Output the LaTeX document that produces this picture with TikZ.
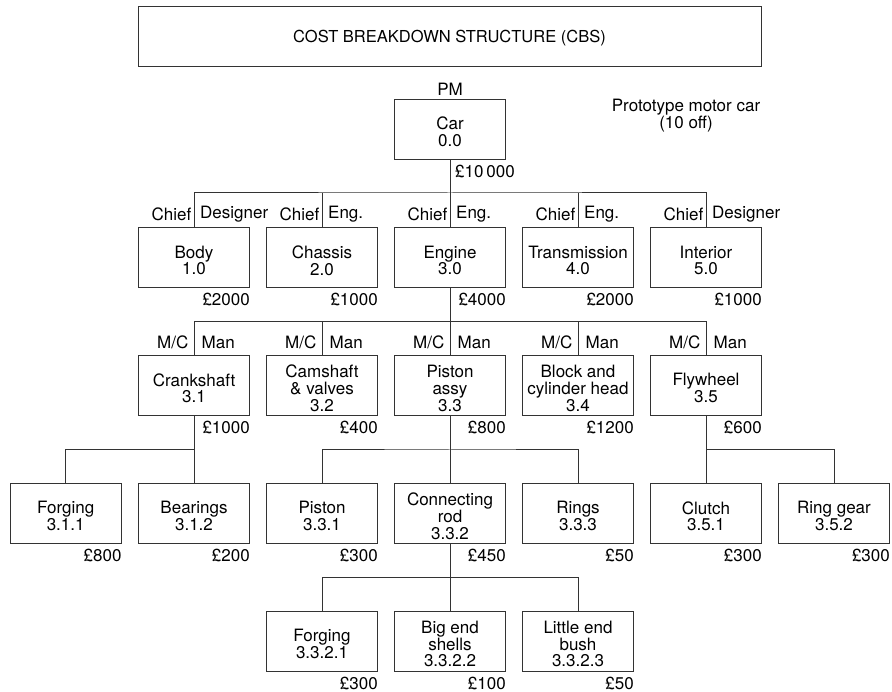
\documentclass[tikz,border=0pt]{standalone}
\usepackage{fontspec}
\setmainfont{TeX Gyre Heros}
\usetikzlibrary{calc}
\newcommand\cbsfont{\fontsize{17}{16.8}\selectfont}
\begin{document}
\begin{tikzpicture}[x=1pt,y=-1pt,
  box/.style={draw=black!80, line width=1pt, minimum width=111pt, minimum height=60pt, inner sep=0pt},
  txt/.style={inner sep=0pt, font=\cbsfont, align=center},
  cost/.style={txt, anchor=east},
  lbl/.style={txt},
  conn/.style={draw=black!80, line width=1pt}]
\useasboundingbox (0,0) rectangle (892,692);

% title and car
\node[box, minimum width=623pt] (title) at (449.5,37) {};
\node[txt, font=\fontsize{16.5}{17}\selectfont] (title-t) at (449.5,38) {COST BREAKDOWN STRUCTURE (CBS)};
\node[txt] (pm) at (450,89) {PM};
\node[txt] (proto) at (686,116) {Prototype motor car\\(10 off)};
\node[box] (car) at (450,129.5) {};
\node[txt] (car-t) at (450,132) {Car\\0.0};
\node[txt, anchor=west] (c0) at (455,172) {£10\,000};

% row 1
\foreach \n/\x/\t in {body/194/Body\\1.0, chassis/322/Chassis\\2.0, engine/450/Engine\\3.0,
  trans/578/Transmission\\4.0, interior/706/Interior\\5.0}{
  \node[box] (\n) at (\x,257.5) {};
  \node[txt] (\n-t) at (\x,260.5) {\t};}
% row 2
\foreach \n/\x/\t in {crank/194/Crankshaft\\3.1, cam/322/Camshaft\\\& valves\\3.2, piston/450/Piston\\assy\\3.3,
  block/578/Block and\\cylinder head\\3.4, fly/706/Flywheel\\3.5}{
  \node[box] (\n) at (\x,385.7) {};
  \node[txt] (\n-t) at (\x,388.2) {\t};}
% row 3
\foreach \n/\x/\t in {forg/65.7/Forging\\3.1.1, bear/194/Bearings\\3.1.2, pist/322/Piston\\3.3.1,
  conrod/450/Connecting\\rod\\3.3.2, rings/578/Rings\\3.3.3, clutch/706/Clutch\\3.5.1, ringgear/834/Ring gear\\3.5.2}{
  \node[box] (\n) at (\x,513.3) {};
  \node[txt] (\n-t) at (\x,516.3) {\t};}
% row 4
\foreach \n/\x/\t in {forgb/322/Forging\\3.3.2.1, bigend/450/Big end\\shells\\3.3.2.2, little/578/Little end\\bush\\3.3.2.3}{
  \node[box] (\n) at (\x,641.3) {};
  \node[txt] (\n-t) at (\x,644) {\t};}

% costs
\foreach \n/\c in {body/2000, chassis/1000, engine/4000, trans/2000, interior/1000,
  crank/1000, cam/400, piston/800, block/1200, fly/600,
  forg/800, bear/200, pist/300, conrod/450, rings/50, clutch/300, ringgear/300,
  forgb/300, bigend/100, little/50}
  \node[cost] (cost-\n) at ($(\n.south east)+(0,11.5)$) {£\c};

% responsibility labels
\foreach \n/\r in {body/Designer, chassis/Eng., engine/Eng., trans/Eng., interior/Designer}{
  \node[lbl, anchor=east] (l-\n) at ($(\n.north)+(-2.5,-12.5)$) {Chief};
  \node[lbl, anchor=west] (r-\n) at ($(\n.north)+(6,-12.5)$) {\r};
}
\foreach \n in {crank, cam, piston, block, fly}{
  \node[lbl, anchor=east] (l-\n) at ($(\n.north)+(-5.5,-12.5)$) {M/C};
  \node[lbl, anchor=west] (r-\n) at ($(\n.north)+(7.5,-12.5)$) {Man};
}

% connectors
\draw[conn] (car.south) -- (car.south |- 0,193) coordinate (j0);
\draw[conn] (body.north) |- (j0) -| (interior.north);
\draw[conn] (chassis.north) -- (chassis.north |- j0);
\draw[conn] (engine.north) -- (j0);
\draw[conn] (trans.north) -- (trans.north |- j0);

\draw[conn] (engine.south) -- (engine.south |- 0,321.7) coordinate (j1);
\draw[conn] (crank.north) |- (j1) -| (fly.north);
\draw[conn] (cam.north) -- (cam.north |- j1);
\draw[conn] (piston.north) -- (j1);
\draw[conn] (block.north) -- (block.north |- j1);

\draw[conn] (crank.south) -- (crank.south |- 0,450) coordinate (j2);
\draw[conn] (forg.north) |- (j2) -- (bear.north);

\draw[conn] (piston.south) -- (piston.south |- 0,450) coordinate (j3);
\draw[conn] (pist.north) |- (j3) -| (rings.north);
\draw[conn] (conrod.north) -- (j3);

\draw[conn] (fly.south) -- (fly.south |- 0,450) coordinate (j4);
\draw[conn] (clutch.north) -- (j4) -| (ringgear.north);

\draw[conn] (conrod.south) -- (conrod.south |- 0,577.3) coordinate (j5);
\draw[conn] (forgb.north) |- (j5) -| (little.north);
\draw[conn] (bigend.north) -- (j5);
\end{tikzpicture}
\end{document}
